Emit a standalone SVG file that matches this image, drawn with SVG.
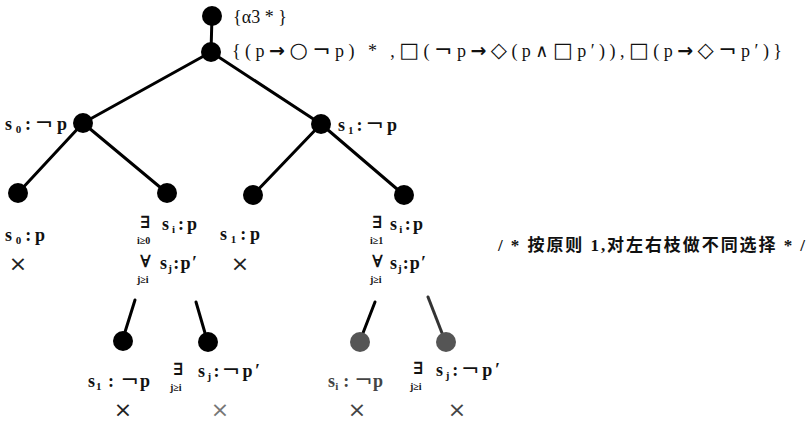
<svg xmlns="http://www.w3.org/2000/svg" width="808" height="423" viewBox="0 0 808 423">
<style>
.t{font-family:"Liberation Serif","DejaVu Serif",serif;font-size:18px;fill:#111}
.b{font-weight:bold}
.s{font-size:11px}
.ng{font-family:"DejaVu Sans",sans-serif;font-size:22px;font-weight:normal}
.ar{font-family:"DejaVu Sans",sans-serif;font-size:19px;font-weight:bold}
.k{font-family:"DejaVu Serif",serif;font-size:17px;font-weight:bold;fill:#111}
.q{font-family:"Liberation Serif","DejaVu Serif",serif;font-size:10px;font-weight:bold;fill:#111}
.y{font-family:"DejaVu Sans",sans-serif;font-size:21px}
.x{font-family:"DejaVu Sans",sans-serif;font-size:22px;text-anchor:middle;fill:#222}
.cn{font-family:"Liberation Serif","Noto Sans CJK SC",serif;font-size:17px;font-weight:bold;fill:#111}
.e{stroke:#000;stroke-width:3;fill:none;stroke-linecap:round}
.n{fill:#000}
.g{fill:#555}
</style>
<rect width="808" height="423" fill="#fff"/>
<g id="connectors">
<line class="e" x1="212" y1="16" x2="211" y2="52"/>
<line class="e" x1="211" y1="52" x2="83" y2="123"/>
<line class="e" x1="211" y1="52" x2="321" y2="124"/>
<line class="e" x1="83" y1="123" x2="18" y2="193"/>
<line class="e" x1="83" y1="123" x2="167" y2="193"/>
<line class="e" x1="321" y1="124" x2="253" y2="195"/>
<line class="e" x1="321" y1="124" x2="404" y2="195"/>
<line class="e" x1="135" y1="300" x2="125" y2="332"/>
<line class="e" x1="196" y1="302" x2="205" y2="333"/>
<line class="e" x1="375" y1="302" x2="363" y2="333"/>
<line class="e" x1="428" y1="297" x2="442" y2="333" style="stroke:#333"/>
</g>
<g id="root"><circle class="n" cx="212" cy="16" r="10"/>
<text class="t" x="233" y="23" textLength="54" lengthAdjust="spacing">{α3 * }</text></g>
<g id="n1"><circle class="n" cx="211" cy="52" r="10"/>
<text class="t" x="232" y="57" textLength="550" lengthAdjust="spacing">{(p<tspan class="ar">→</tspan><tspan class="y">○</tspan><tspan class="ng">¬</tspan>p) * ,<tspan class="y">□</tspan>(<tspan class="ng">¬</tspan>p<tspan class="ar">→</tspan><tspan class="y">◇</tspan>(p∧<tspan class="y">□</tspan>p′)),<tspan class="y">□</tspan>(p<tspan class="ar">→</tspan><tspan class="y">◇</tspan><tspan class="ng">¬</tspan>p′)}</text></g>
<g id="s0"><circle class="n" cx="83" cy="123" r="10"/>
<text class="t b" x="5" y="130" textLength="62" lengthAdjust="spacing">s<tspan class="s" dy="3">0</tspan><tspan dy="-3">:</tspan><tspan class="ng">¬</tspan>p</text></g>
<g id="s1"><circle class="n" cx="321" cy="124" r="10"/>
<text class="t b" x="338" y="131" textLength="59" lengthAdjust="spacing">s<tspan class="s" dy="3">1</tspan><tspan dy="-3">:</tspan><tspan class="ng">¬</tspan>p</text></g>
<g id="a"><circle class="n" cx="18" cy="193" r="10"/>
<text class="t b" x="5" y="241" textLength="40" lengthAdjust="spacing">s<tspan class="s" dy="3">0</tspan><tspan dy="-3">:p</tspan></text>
<text class="x" x="18" y="271">×</text></g>
<g id="b"><circle class="n" cx="167" cy="193" r="10"/>
<text class="k" x="140" y="228">∃</text><text class="q" x="137" y="244">i≥0</text>
<text class="t b" x="162" y="230" textLength="35" lengthAdjust="spacing">s<tspan class="s" dy="3">i</tspan><tspan dy="-3">:p</tspan></text>
<text class="k" x="140" y="267">∀</text><text class="q" x="137" y="283">j≥i</text>
<text class="t b" x="160" y="269" textLength="37" lengthAdjust="spacing">s<tspan class="s" dy="3">j</tspan><tspan dy="-3">:p′</tspan></text></g>
<g id="c"><circle class="n" cx="253" cy="195" r="10"/>
<text class="t b" x="220" y="240" textLength="40" lengthAdjust="spacing">s<tspan class="s" dy="3">1</tspan><tspan dy="-3">:p</tspan></text>
<text class="x" x="240" y="271">×</text></g>
<g id="d"><circle class="n" cx="404" cy="195" r="10"/>
<text class="k" x="372" y="228">∃</text><text class="q" x="370" y="244">i≥1</text>
<text class="t b" x="390" y="230" textLength="33" lengthAdjust="spacing">s<tspan class="s" dy="3">i</tspan><tspan dy="-3">:p</tspan></text>
<text class="k" x="372" y="267">∀</text><text class="q" x="370" y="283">j≥i</text>
<text class="t b" x="390" y="269" textLength="36" lengthAdjust="spacing">s<tspan class="s" dy="3">j</tspan><tspan dy="-3">:p′</tspan></text></g>
<g id="comment"><text class="cn" x="498" y="251" textLength="307" lengthAdjust="spacing">/ * 按原则 1,对左右枝做不同选择 * /</text></g>
<g id="e"><circle class="n" cx="123" cy="341" r="10"/>
<text class="t b" x="88" y="387" textLength="62" lengthAdjust="spacing">s<tspan class="s" dy="3">1</tspan><tspan dy="-3"> : </tspan><tspan class="ng">¬</tspan>p</text>
<text class="x" x="123" y="417">×</text></g>
<g id="f"><circle class="n" cx="208" cy="342" r="10"/>
<text class="k" x="173" y="375">∃</text><text class="q" x="170" y="391">j≥i</text>
<text class="t b" x="198" y="377" textLength="62" lengthAdjust="spacing">s<tspan class="s" dy="3">j</tspan><tspan dy="-3">:</tspan><tspan class="ng">¬</tspan>p′</text>
<text class="x" x="220" y="417" style="fill:#777">×</text></g>
<g id="g"><circle class="g" cx="360" cy="342" r="10"/>
<text class="t b" x="328" y="387" textLength="55" lengthAdjust="spacing" style="fill:#444">s<tspan class="s" dy="3">i</tspan><tspan dy="-3"> : </tspan><tspan class="ng">¬</tspan>p</text>
<text class="x" x="357" y="417" style="fill:#444">×</text></g>
<g id="h"><circle class="g" cx="446" cy="342" r="10"/>
<text class="k" x="413" y="374">∃</text><text class="q" x="410" y="390">j≥i</text>
<text class="t b" x="436" y="376" textLength="64" lengthAdjust="spacing">s<tspan class="s" dy="3">j</tspan><tspan dy="-3">:</tspan><tspan class="ng">¬</tspan>p′</text>
<text class="x" x="457" y="417" style="fill:#444">×</text></g>
</svg>
